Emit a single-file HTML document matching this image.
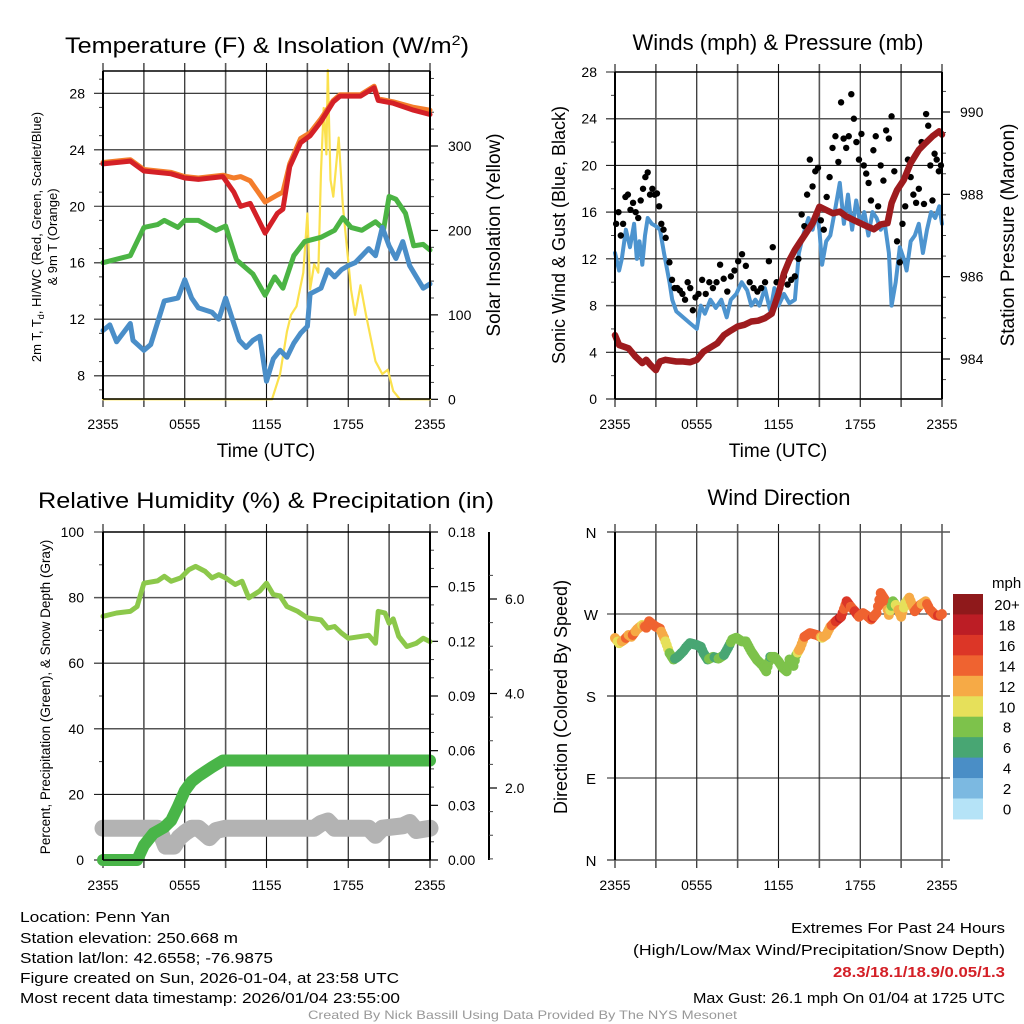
<!DOCTYPE html>
<html><head><meta charset="utf-8">
<style>
html,body{margin:0;padding:0;background:#fff;}
svg{display:block;font-family:"Liberation Sans",Arial,sans-serif;}
</style></head>
<body>
<svg id="fig" width="1024" height="1024" viewBox="0 0 1024 1024" xmlns="http://www.w3.org/2000/svg">
<rect width="1024" height="1024" fill="#fff"/>
<g id="layer"></g>
<!-- titles -->
<text x="267" y="53" font-size="22" text-anchor="middle" textLength="404" lengthAdjust="spacingAndGlyphs">Temperature (F) &amp; Insolation (W/m<tspan dy="-8" font-size="14">2</tspan><tspan dy="8">)</tspan></text>
<text x="778" y="50" font-size="22" text-anchor="middle">Winds (mph) &amp; Pressure (mb)</text>
<text x="266" y="508" font-size="22" text-anchor="middle" textLength="456" lengthAdjust="spacingAndGlyphs">Relative Humidity (%) &amp; Precipitation (in)</text>
<text x="779" y="505" font-size="22" text-anchor="middle">Wind Direction</text>
<!-- x axis titles -->
<text x="266" y="457" font-size="19" text-anchor="middle">Time (UTC)</text>
<text x="778" y="457" font-size="19" text-anchor="middle">Time (UTC)</text>
<!-- y axis titles -->
<text transform="translate(41,237) rotate(-90)" font-size="13" text-anchor="middle">2m T, T<tspan font-size="9" dy="3">d</tspan><tspan dy="-3">, HI/WC (Red, Green, Scarlet/Blue)</tspan></text>
<text transform="translate(57,237) rotate(-90)" font-size="13" text-anchor="middle">&amp; 9m T (Orange)</text>
<text transform="translate(500,235) rotate(-90)" font-size="19" text-anchor="middle">Solar Insolation (Yellow)</text>
<text transform="translate(565,235) rotate(-90)" font-size="18" text-anchor="middle">Sonic Wind &amp; Gust (Blue, Black)</text>
<text transform="translate(1014,235) rotate(-90)" font-size="19" text-anchor="middle">Station Pressure (Maroon)</text>
<text transform="translate(50,697) rotate(-90)" font-size="13.5" text-anchor="middle">Percent, Precipitation (Green), &amp; Snow Depth (Gray)</text>
<text transform="translate(567,697) rotate(-90)" font-size="18" text-anchor="middle">Direction (Colored By Speed)</text>
<!-- footer -->
<g font-size="15">
<text x="20" y="922" textLength="150" lengthAdjust="spacingAndGlyphs">Location: Penn Yan</text>
<text x="20" y="943" textLength="218" lengthAdjust="spacingAndGlyphs">Station elevation: 250.668 m</text>
<text x="20" y="963" textLength="253" lengthAdjust="spacingAndGlyphs">Station lat/lon: 42.6558; -76.9875</text>
<text x="20" y="983" textLength="379" lengthAdjust="spacingAndGlyphs">Figure created on Sun, 2026-01-04, at 23:58 UTC</text>
<text x="20" y="1003" textLength="380" lengthAdjust="spacingAndGlyphs">Most recent data timestamp: 2026/01/04 23:55:00</text>
</g>
<g font-size="15">
<text x="791" y="933" textLength="214" lengthAdjust="spacingAndGlyphs">Extremes For Past 24 Hours</text>
<text x="633" y="955" textLength="372" lengthAdjust="spacingAndGlyphs">(High/Low/Max Wind/Precipitation/Snow Depth)</text>
<text x="833" y="977" font-weight="bold" fill="#d42027" textLength="172" lengthAdjust="spacingAndGlyphs">28.3/18.1/18.9/0.05/1.3</text>
<text x="693" y="1003" textLength="312" lengthAdjust="spacingAndGlyphs">Max Gust: 26.1 mph On 01/04 at 1725 UTC</text>
</g>
<text x="308" y="1019" font-size="12" fill="#999" textLength="429" lengthAdjust="spacingAndGlyphs">Created By Nick Bassill Using Data Provided By The NYS Mesonet</text>
</svg>
<script>
// ---------- DATA ----------
const timeTickLabels = ["2355","0555","1155","1755","2355"];
const tempT = [0,2,3,5,6,7,8.8,9.6,10.1,10.8,11.9,12.8,13.2,13.7,14.5,15.2,16,16.9,17.4,18.9,19.9,20.2,21.3,22.8,24];
const temp2m = [23,23.2,22.5,22.3,22,21.9,22.1,21,20,20.2,18.1,19.5,19.8,22.8,24.5,25,26,27.4,27.8,27.8,28.4,27.5,27.3,26.8,26.5];
const temp9m = [23.1,23.3,22.6,22.4,22.1,22,22.2,22,22.1,21.8,20.3,20.8,21,23,24.8,25.2,26.2,27.5,27.9,27.9,28.5,27.6,27.4,27.0,26.8];
const dewT = [0,2,3,4,4.5,5.5,6,7,8.3,9,9.8,11,11.9,12.6,13.2,14,14.8,16,17,17.6,18.2,19,20,20.6,21,21.5,22.2,22.8,23.5,24];
const dewpoint = [16,16.5,18.5,18.7,19,18.5,19,19,18.3,18.6,16.2,15.2,13.7,15,14.2,16.5,17.5,17.8,18.3,19.2,18.5,18.3,18.9,18.4,20.7,20.5,19.5,17.2,17.3,16.9];
const wcT = [0,0.5,1,2,2.2,3,3.5,4.5,5,5.5,6,6.5,7,8,8.5,9,9.5,10,10.5,11,11.5,12,12.5,13,13.5,14,14.5,15,15.2,16,16.5,17,17.5,18,18.5,19,19.5,20,20.5,21,21.5,22,22.5,23,23.5,24];
const windChill = [11.2,11.6,10.4,11.7,10.5,9.8,10.2,13.3,13.4,13.5,14.8,13.5,12.8,12.5,12,13.5,12,10.5,10,10.5,10.8,7.6,9.2,9.8,9.3,10.3,11,11.5,13.8,14.2,15.5,15,15.5,15.8,16,16.5,17,16.5,18.5,17.2,16.3,17.5,15.8,15,14.2,14.5];
const solarT = [0,12.4,13,13.5,13.8,14.2,14.7,15.0,15.2,15.5,15.8,16.0,16.2,16.4,16.5,16.7,16.9,17.3,17.6,17.9,18.2,18.5,18.9,19.3,20.0,20.5,20.9,21.3,21.8,24];
const solar = [0,0,30,80,100,110,150,220,130,160,150,270,345,290,390,260,240,310,230,180,130,100,135,100,45,30,35,10,0,0];
const tempTicks = [8,12,16,20,24,28];
const solarTicks = [0,100,200,300];

const windT = [0,0.3,0.5,0.8,1.1,1.4,1.6,1.8,2,2.2,2.4,2.7,3,3.3,3.6,4,4.2,4.5,5,5.5,6,6.3,6.6,7,7.4,7.8,8.2,8.5,8.9,9.3,9.7,10,10.3,10.6,11,11.4,11.7,12,12.4,12.8,13.2,13.5,13.8,14.2,14.5,14.8,15,15.2,15.5,15.8,16.2,16.5,16.8,17.1,17.4,17.7,18,18.3,18.6,18.9,19.2,19.5,19.8,20.1,20.3,20.6,20.9,21.2,21.4,21.7,22,22.3,22.6,22.9,23.2,23.5,23.8,24];
const windSpeed = [12.5,11,12,14.5,13,15,12,13.5,11.5,14,15.5,15,14.8,14.5,12.5,10,8.5,7.5,7,6.5,6,8,7.3,8.5,7.8,8.5,7,8.5,9,10,9.3,8,8.5,8,9.5,7.5,9.5,8,9,8.2,8.5,12.5,14,15.5,14.5,16,14.5,11.5,13.5,14,16.5,18.5,15,17.5,14.5,17,15,16,14,16,15.5,14.5,15,12.5,8,10,13,12,11,13.5,14,15,12.5,14.5,16,15.5,16.5,15];
const gustGroupStart = [0,0.85,1.8,3,3.9,6,8.9,12,13.6,15,16.5,18,19.4,21,22.6];
const gustGroupEnd = [0.85,1.8,3,3.8,6,8.9,12,13.6,15,16.5,18,19.4,21,22.6,24];
const gustGroups = [
 [15,16,14,15,17.3],[17.5,16.2,16.8,16,15.5],[17,18,19,19.4,17.5,18,17.5],[17.6,16.5,15,14.5,13.8],
 [11.7,10.2,9.5,9.5,9.3,9,8.5,10,9.5,7.6,8.7],[9,10.2,9,10,9.5,10,11.5,10.3,9.2,10.5,11],
 [11.8,12.4,11.4,10,9.5,9.2,9.5,10,11.8,13,10],[9.5,10.5,9.8,10.2,10.5,12],
 [15.8,14.8,17.5,20.5,18.2,19.5,19.8],[15.3,14.5,17.3,19,21.5,22.5,20.3],
 [25.4,22.3,21.5,22.5,26.1,24,22,20.5],[22.7,20,19.3,18.5,17,21.3,22.5,16.5],
 [20,18.7,23,22.3,24.2,19.5,13.5,11.7],[15,16.5,20.5,19,17.5,16.8,18,22],
 [16.7,24.4,23.4,20,17,21,20.5,19.5,20]];
const presT = [0,0.3,1,1.5,2,2.3,2.6,3,3.3,3.7,4.5,5,5.5,6,6.5,7,7.5,8,8.5,9,9.5,10,10.5,11,11.5,12,12.4,12.8,13.2,13.6,14,14.5,15,15.5,16,16.5,17,17.5,18,18.5,19,19.5,20,20.3,20.7,21.2,21.7,22.3,22.8,23.3,23.8,24];
const pressure = [984.58,984.34,984.26,984.06,983.9,983.98,983.86,983.73,983.94,983.98,983.94,983.94,983.92,983.98,984.18,984.28,984.38,984.58,984.69,984.79,984.83,984.91,984.93,984.99,985.1,985.59,986.08,986.4,986.65,986.85,987.05,987.3,987.7,987.62,987.54,987.58,987.46,987.38,987.3,987.22,987.15,987.27,987.3,987.79,988.1,988.35,988.76,989.08,989.25,989.41,989.53,989.45];
const windTicks = [0,4,8,12,16,20,24,28];
const presTicks = [984,986,988,990];

const rhT = [0,1,2,2.5,3,4,4.5,5,5.7,6.3,6.8,7.5,8,8.5,9,9.7,10.2,10.7,11.5,12,12.5,13,13.5,14.3,15,16,16.5,17,17.5,18,19,19.5,20,20.2,20.7,21,21.3,21.7,22.3,23,23.5,24];
const rh = [74.3,75.3,75.8,77.3,84.4,85.1,86.5,85,86,88.5,89.5,88,86,87,86,84,85,79.9,82,84.4,80.9,80.5,77.3,75.8,73.8,73.2,70.7,71.2,69.2,67.6,68.2,68.5,66.1,75.8,75.3,72.2,73.5,68.2,65.1,66.1,67.6,66.6];
const precT = [0,2.5,3,3.7,4.5,5,5.5,6,6.5,7,7.5,8,8.8,24];
const precip = [0,0,0.008,0.0146,0.018,0.0216,0.0293,0.038,0.043,0.046,0.0485,0.051,0.0546,0.0546];
const snowT = [0,4,4.3,4.6,5.2,5.6,6,6.5,7,7.8,8.3,9,15.5,16,16.5,17,19.5,20,20.5,22,22.5,23,24];
const snowDepth = [1.15,1.15,1.0,0.77,0.77,0.95,1.05,1.15,1.15,0.95,1.1,1.15,1.15,1.25,1.3,1.15,1.15,1.0,1.15,1.2,1.27,1.1,1.15];
const rhTicks = [0,20,40,60,80,100];
const precTicks = ["0.00","0.03","0.06","0.09","0.12","0.15","0.18"];
const snowTicks = ["2.0","4.0","6.0"];

const dirT = [0,0.3,0.7,1,1.2,1.6,2,2.3,2.5,3,3.3,3.6,3.8,4,4.3,4.6,5,5.2,5.5,6,6.3,6.5,6.8,7.2,7.6,8,8.3,8.6,8.9,9.3,9.6,10,10.4,10.8,11.1,11.4,11.7,12,12.3,12.6,12.8,13.1,13.3,13.6,13.9,14.3,14.8,15.2,15.5,15.8,16.2,16.6,17,17.3,17.6,17.9,18.2,18.5,18.8,19.2,19.5,19.8,20.1,20.4,20.7,21,21.3,21.6,22,22.4,22.8,23.1,23.5,23.8,24];
const windDir = [243.6,238,242,247,245,253,258,255,262,256,254,244,236,227,220,223,229,233,238,236,234,227,220,223,221,225,233,242,244,240,240,229,220,214,207,223,223,218,211,207,220,213,225,233,245,249,247,244,247,256,262,267,284,278,273,267,271,268,264,271,293,286,269,284,278,267,282,288,273,280,284,275,269,268,270];
const dirLabels = ["N","E","S","W","N"];
const speedBins = ["0","2","4","6","8","10","12","14","16","18","20+"];
const speedColors = ["#b5e3f7","#7cb9e1","#4a8ec6","#48a673","#7dc24b","#e6e05a","#f6aa46","#ef6330","#dc3627","#bc1d25","#8f191b"];

// ---------- helpers ----------
const NS = "http://www.w3.org/2000/svg";
const layer = document.getElementById("layer");
function mk(tag, attrs, parent){
  const e = document.createElementNS(NS, tag);
  for (const k in attrs) e.setAttribute(k, attrs[k]);
  (parent||layer).appendChild(e);
  return e;
}
function interp(ts, vs, t){
  if (t <= ts[0]) return vs[0];
  for (let i=1;i<ts.length;i++){ if (t<=ts[i]){ const f=(t-ts[i-1])/(ts[i]-ts[i-1]); return vs[i-1]+f*(vs[i]-vs[i-1]); } }
  return vs[vs.length-1];
}
function xScale(p){ return t => p.x0 + t*(p.x1-p.x0)/24; }
function linScale(v0, y0, v1, y1){ return v => y0 + (v-v0)*(y1-y0)/(v1-v0); }

const P1 = {x0:103,x1:430,y0:71,y1:399};
const P2 = {x0:615,x1:942,y0:72,y1:399};
const P3 = {x0:103,x1:430,y0:532,y1:860};
const P4 = {x0:615,x1:942,y0:532,y1:860};

function timeGrid(p, name){
  const xs = xScale(p);
  const g = mk("g",{});
  
  
  for (let h=0; h<=24; h+=3){
    const ln = mk("line",{x1:xs(h),x2:xs(h),y1:p.y0-8,y2:p.y1+8,stroke:(h/3)%2?"#555":"#111","stroke-width":(h/3)%2?1.6:1.1},g);
    
    
  }
  timeTickLabels.forEach((lab,i)=>{
    const tx = mk("text",{x:xs(i*6),y:p.y1+30,"font-size":14,"text-anchor":"middle"},g);
    tx.textContent = lab;
    
    
  });
}
function hGrid(p, ys, labels, minorYs, labelX, name){
  const g = mk("g",{});
  
  
  ys.forEach((y,i)=>{
    const ln = mk("line",{x1:p.x0-9,x2:p.x1,y1:y,y2:y,stroke:i%2?"#222":"#555","stroke-width":i%2?1.1:1.5},g);
    
    
    const tx = mk("text",{x:labelX,y:y+5,"font-size":14,"text-anchor":"end"},g);
    tx.textContent = labels[i];
    
    
  });
  minorYs.forEach(y=>{ mk("line",{x1:p.x0-4,x2:p.x0,y1:y,y2:y,stroke:"#444","stroke-width":1},g); });
}
function rightAxis(x, ys, labels, minorYs, yTop, yBot, name, labelX){
  const g = mk("g",{});
  
  
  mk("line",{x1:x,x2:x,y1:yTop,y2:yBot,stroke:"#000","stroke-width":2},g);
  ys.forEach((y,i)=>{
    mk("line",{x1:x,x2:x+8,y1:y,y2:y,stroke:"#000","stroke-width":1.2},g);
    const tx = mk("text",{x:labelX,y:y+5,"font-size":14},g);
    tx.textContent = labels[i];
    
    
  });
  minorYs.forEach(y=>{ mk("line",{x1:x,x2:x+4,y1:y,y2:y,stroke:"#444","stroke-width":1},g); });
}
function frame(p){
  mk("line",{x1:p.x0,x2:p.x0,y1:p.y0,y2:p.y1,stroke:"#000","stroke-width":2});
  mk("line",{x1:p.x1,x2:p.x1,y1:p.y0,y2:p.y1,stroke:"#000","stroke-width":2});
  mk("line",{x1:p.x0,x2:p.x1,y1:p.y0,y2:p.y0,stroke:"#000","stroke-width":1.5});
  mk("line",{x1:p.x0,x2:p.x1,y1:p.y1,y2:p.y1,stroke:"#000","stroke-width":1.5});
}
function linePath(ts, vs, xs, ys){
  return ts.map((t,i)=>(i?"L":"M")+xs(t).toFixed(1)+","+ys(vs[i]).toFixed(1)).join("");
}
function series(ts, vs, xs, ys, color, w, name){
  const e = mk("path",{d:linePath(ts,vs,xs,ys),fill:"none",stroke:color,"stroke-width":w,"stroke-linejoin":"round","stroke-linecap":"round"});
  
  
  return e;
}
function range(a,b,s){ const r=[]; for(let v=a; v<=b+1e-9; v+=s) r.push(v); return r; }

// ---------- Panel 1: temperature ----------
(function(){
  const p=P1, xs=xScale(p);
  const yT = linScale(8, 375.7, 28, 93.3);
  const yS = linScale(0, 399.3, 300, 146);
  timeGrid(p,'temperature');
  hGrid(p, tempTicks.map(yT), tempTicks, range(7,29,2).filter(v=>v%4).map(yT), 85, 'temperature-y-axis');
  rightAxis(p.x1, solarTicks.map(yS), solarTicks, range(20,380,20).filter(v=>v%100).map(yS), p.y0, p.y1, 'solar-y-axis', 448);
  series(solarT, solar, xs, yS, "#fbe14d", 2.2, 'solar-insolation-line');
  series(tempT, temp9m, xs, yT, "#f47d2b", 5, 'temp-9m-line');
  series(tempT, temp2m, xs, yT, "#d42027", 5, 'temp-2m-line');
  series(dewT, dewpoint, xs, yT, "#4bb444", 5, 'dewpoint-line');
  series(wcT, windChill, xs, yT, "#4a8ec8", 5, 'wind-chill-line');
  frame(p);
})();

// ---------- Panel 2: winds ----------
(function(){
  const p=P2, xs=xScale(p);
  const yW = linScale(0, 399, 28, 72);
  const yP = linScale(984, 359, 990, 112);
  timeGrid(p,'winds');
  hGrid(p, windTicks.map(yW), windTicks, range(2,26,4).map(yW), 597, 'wind-y-axis');
  rightAxis(p.x1, presTicks.map(yP), presTicks, range(983,991,0.5).filter(v=>v%2 && yP(v)>=p.y0 && yP(v)<=p.y1).map(yP), p.y0, p.y1, 'pressure-y-axis', 960);
  series(windT, windSpeed, xs, yW, "#4d94cf", 4, 'sonic-wind-line');
  const gg = mk("g",{});
  
  
  gustGroups.forEach((grp,gi)=>{
    grp.forEach((v,i)=>{
      const t = gustGroupStart[gi] + (gustGroupEnd[gi]-gustGroupStart[gi])*(i+0.5)/grp.length;
      const c = mk("circle",{cx:xs(t),cy:yW(v),r:3.2,fill:"#000"},gg);
      
      
    });
  });
  series(presT, pressure, xs, yP, "#9e1b1e", 6.5, 'station-pressure-line');
  frame(p);
})();

// ---------- Panel 3: humidity ----------
(function(){
  const p=P3, xs=xScale(p);
  const yH = linScale(0, 860, 100, 532);
  const yR = linScale(0, 860, 0.18, 532);
  const yD = linScale(2, 788, 6, 599);
  timeGrid(p,'humidity');
  hGrid(p, rhTicks.map(yH), rhTicks, range(10,90,20).map(yH), 84, 'humidity-y-axis');
  rightAxis(p.x1, precTicks.map(v=>yR(+v)), precTicks, range(0.01,0.17,0.01).filter(v=>Math.abs(v/0.03-Math.round(v/0.03))>0.01).map(yR), p.y0, p.y1, 'precip-y-axis', 448);
  const g = mk("g",{});
  
  
  mk("line",{x1:489,x2:489,y1:532,y2:860,stroke:"#000","stroke-width":2},g);
  snowTicks.forEach(l=>{
    mk("line",{x1:489,x2:497,y1:yD(+l),y2:yD(+l),stroke:"#000","stroke-width":1.2},g);
    const tx = mk("text",{x:505,y:yD(+l)+5,"font-size":14},g);
    tx.textContent = l;
    
    
  });
  range(0.5,6.5,0.5).filter(v=>v%2 && yD(v)>=532 && yD(v)<=860).forEach(v=>mk("line",{x1:489,x2:493,y1:yD(v),y2:yD(v),stroke:"#444"},g));
  series(snowT, snowDepth, xs, yD, "#b3b3b3", 17, 'snow-depth-line');
  series(precT, precip, xs, yR, "#49b548", 12, 'precipitation-line');
  series(rhT, rh, xs, yH, "#8cc84b", 5, 'relative-humidity-line');
  frame(p);
})();

// ---------- Panel 4: direction ----------
(function(){
  const p=P4, xs=xScale(p);
  const yDir = linScale(0, 860, 360, 532);
  const g0 = mk("g",{});
  
  
  for (let h=0; h<=24; h+=3) mk("line",{x1:xs(h),x2:xs(h),y1:p.y0-8,y2:p.y1+8,stroke:(h/3)%2?"#555":"#111","stroke-width":(h/3)%2?1.6:1.1},g0);
  timeTickLabels.forEach((lab,i)=>{
    const tx = mk("text",{x:xs(i*6),y:p.y1+30,"font-size":14,"text-anchor":"middle"},g0);
    tx.textContent = lab;
    
    
  });
  dirLabels.forEach((l,i)=>{
    const y = yDir(i*90);
    mk("line",{x1:607,x2:950,y1:y,y2:y,stroke:i%2?"#222":"#555","stroke-width":i%2?1.1:1.5},g0);
    const tx = mk("text",{x:591,y:y+6,"font-size":15,"text-anchor":"middle"},g0);
    tx.textContent = l;
    
    
  });
  mk("line",{x1:p.x0,x2:p.x0,y1:p.y0,y2:p.y1,stroke:"#000","stroke-width":2});
  const gd = mk("g",{});
  
  
  for (let t=0; t<=24.001; t+=0.1){
    const d = interp(dirT, windDir, t);
    const s = interp(windT, windSpeed, t);
    const bin = Math.min(10, Math.max(0, Math.floor(s/2)));
    const c = mk("circle",{cx:xs(t),cy:yDir(d),r:5,fill:speedColors[bin]},gd);
    
    
  }
  // colorbar
  const cb = mk("g",{});
  
  
  const top=594, bh=20.45;
  const unit = mk("text",{x:992,y:588,"font-size":15},cb);
  unit.textContent = "mph";
  
  
  speedBins.forEach((lab,i)=>{
    const k = speedBins.length-1-i;
    const r = mk("rect",{x:953,y:top+i*bh,width:30,height:bh+0.5,fill:speedColors[k]},cb);
    
    
    const tx = mk("text",{x:1007,y:top+i*bh+16,"font-size":15,"text-anchor":"middle"},cb);
    tx.textContent = speedBins[k];
    
    
  });
})();
</script>
</body></html>
